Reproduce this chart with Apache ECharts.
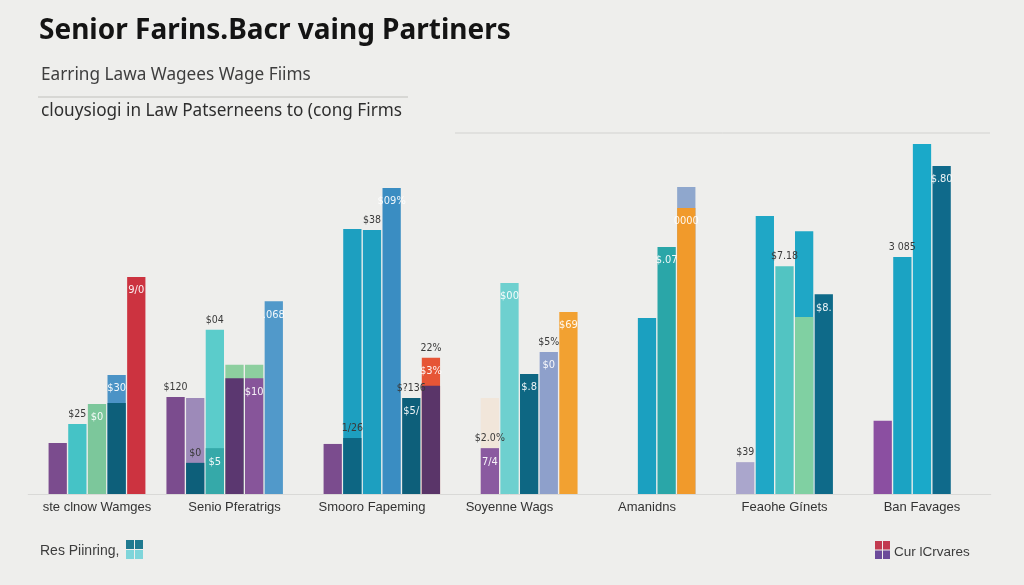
<!DOCTYPE html>
<html>
<head>
<meta charset="utf-8">
<script src="https://cdn.jsdelivr.net/npm/echarts@6/dist/echarts.min.js"></script>
<style>
html,body{margin:0;padding:0;background:#eeeeec;}
#chart{width:1024px;height:585px;}
</style>
</head>
<body>
<div id="chart"></div>
<script>
// ---------------- DATA ----------------
const titleText = 'Senior Farins.Bacr vaing Partiners';
const subtitleText = 'Earring Lawa Wagees Wage Fiims';
const subtitle2Text = 'clouysiogi in Law Patserneens to (cong Firms';
const groups = ['ste clnow Wamges', 'Senio Pferatrigs', 'Smooro Fapeming', 'Soyenne Wags', 'Amanidns', 'Feaohe Gínets', 'Ban Favages'];
const legendLeft = 'Res Piinring,';
const legendRight = 'Cur lCrvares';

// seven column slots per group, null = no bar in that slot
// back layer (taller bars partly hidden behind the main bars)
const backValues = [
  [null, null, null, null, null, null, null],
  [null, null, null, 36.9, 36.9, null, null],
  [null, null, null, null, null, null, null],
  [null, null, 27.4, null, null, null, null],
  [null, null, null, null, null, 87.7, null],
  [null, null, null, null, 75.1, null, null],
  [null, null, null, null, null, null, null]
];
// main layer
const mainValues = [
  [null, 14.6, 20.0, 25.7, 34.0, 62.0, null],
  [27.7, 27.4, 46.9, 33.1, 33.1, 55.1, null],
  [null, 14.3, 75.7, 75.4, 87.4, 27.4, 38.9],
  [null, null, 13.1, 60.3, 34.3, 40.6, 52.0],
  [null, null, null, 50.3, 70.6, 81.7, null],
  [null, 9.1, 79.4, 65.1, 50.6, 57.1, null],
  [null, 20.9, 67.7, 100.0, 93.7, null, null]
];
// front layer (lower overlays in front of the main bars)
const frontValues = [
  [null, null, null, null, 26.0, null, null],
  [null, 8.9, 13.1, null, null, null, null],
  [null, null, 16.0, null, null, null, 30.9],
  [null, null, null, null, null, null, null],
  [null, null, null, null, null, null, null],
  [null, null, null, null, null, null, null],
  [null, null, null, null, null, null, null]
];
// value labels: [group, slot, layer, text, placement]
const barLabels = [
  [0, 2, 'main', '$25', 'out'], [0, 3, 'main', '$0', 'in'], [0, 4, 'main', '$30', 'in'], [0, 5, 'main', '9/0', 'in'],
  [1, 0, 'main', '$120', 'out'], [1, 2, 'main', '$04', 'out'], [1, 2, 'front', '$5', 'in'], [1, 1, 'front', '$0', 'out'],
  [1, 4, 'main', '$10', 'in'], [1, 5, 'main', '.068', 'in'],
  [2, 2, 'main', '$04', 'out'], [2, 3, 'main', '$38', 'out'], [2, 4, 'main', '$09%', 'in'], [2, 2, 'front', '1/26', 'out'],
  [2, 5, 'main', '$?136', 'out'], [2, 5, 'main', '$5/', 'in'], [2, 6, 'main', '22%', 'out'], [2, 6, 'main', '$3%', 'in'],
  [3, 2, 'back', '30%', 'out'], [3, 2, 'main', '$2.0%', 'out'], [3, 2, 'main', '7/4', 'in'], [3, 3, 'main', '$00', 'in'],
  [3, 4, 'main', '$.8', 'in'], [3, 5, 'main', '$5%', 'out'], [3, 5, 'main', '$0', 'in'], [3, 6, 'main', '$69', 'in'],
  [4, 4, 'main', '$.07', 'in'], [4, 5, 'main', '0000', 'in'],
  [5, 1, 'main', '$39', 'out'], [5, 3, 'main', '$7.18', 'out'], [5, 5, 'main', '$8.', 'in'],
  [6, 2, 'main', '3 085', 'out'], [6, 4, 'main', '$.80', 'in']
];

// ---------------- STYLES ----------------
const backColors = [
  [], [null, null, null, '#8dcf9f', '#8dcf9f'], [], [null, null, '#f1e6da'], [null, null, null, null, null, '#8fa7cd'],
  [null, null, null, null, '#1fa7c6'], []
];
const mainColors = [
  [null, '#7b4c8e', '#45c3c6', '#7cc79b', '#4b93c6', '#cc3340'],
  ['#7b4c8e', '#9d8ab9', '#5bcccb', '#5b3770', '#87559a', '#5199ca'],
  [null, '#7b4c8e', '#1d9fc0', '#1d9fc0', '#3a8dc2', '#0d5f7a', '#e65536'],
  [null, null, '#8a5aa0', '#6ed0cf', '#0e6783', '#8ea0cb', '#f2a131'],
  [null, null, null, '#1ba0c0', '#2aa6a8', '#f19a2b'],
  [null, '#aaa6cc', '#1fa7c6', '#52c4c2', '#80d0a2', '#0e6a89'],
  [null, '#8b4fa1', '#1ba3c3', '#1aa9c9', '#0f6a8b']
];
const frontColors = [
  [null, null, null, null, '#0d5f7a'],
  [null, '#0d5f7a', '#35a9a9'],
  [null, null, '#0d6683', null, null, null, '#5a3569'],
  [], [], [], []
];

const SLOTS = 7;
const slotNames = [];
groups.forEach((g, gi) => { for (let s = 0; s < SLOTS; s++) slotNames.push(gi + '-' + s); });

function layerData(values, colors) {
  const out = [];
  values.forEach((row, gi) => {
    for (let s = 0; s < SLOTS; s++) {
      const v = row[s];
      if (v === null || v === undefined) { out.push('-'); continue; }
      out.push({ value: v, itemStyle: { color: (colors[gi] && colors[gi][s]) || '#888' } });
    }
  });
  return out;
}
const layers = { back: backValues, main: mainValues, front: frontValues };
function labelData(placement) {
  const out = slotNames.map(() => '-');
  barLabels.forEach(([gi, s, layer, text, pl]) => {
    if (pl !== placement) return;
    out[gi * SLOTS + s] = { value: layers[layer][gi][s], labelText: text };
  });
  return out;
}

const BW = '93%';
const barBase = { type: 'bar', xAxisIndex: 0, yAxisIndex: 0, barWidth: BW, barGap: '-100%', animation: false, silent: true };

const chart = echarts.init(document.getElementById('chart'), null, { renderer: 'canvas' });
chart.setOption({
  backgroundColor: '#eeeeec',
  animation: false,
  textStyle: { fontFamily: 'Noto Sans' },
  title: [
    { text: titleText, left: 34, top: 12, textStyle: { fontSize: 28, fontWeight: 'bold', color: '#141414', fontFamily: 'Noto Sans' } },
    { text: subtitleText, left: 36, top: 62, textStyle: { fontSize: 17.2, fontWeight: 'normal', color: '#3e3e3e', fontFamily: 'Noto Sans' } },
    { text: subtitle2Text, left: 36, top: 98, textStyle: { fontSize: 17.2, fontWeight: 'normal', color: '#2e2e2e', fontFamily: 'Noto Sans' } }
  ],
  grid: { left: 28.25, right: 33.25, top: 144, bottom: 91, containLabel: false },
  xAxis: [
    { type: 'category', data: slotNames, show: false, boundaryGap: true },
    { type: 'category', data: groups, position: 'bottom', boundaryGap: true,
      axisLine: { show: true, lineStyle: { color: '#d9d9d7', width: 1 } },
      axisTick: { show: false },
      axisLabel: { interval: 0, margin: 7, fontSize: 13, color: '#333', fontFamily: 'Liberation Sans' },
      splitLine: { show: false } }
  ],
  yAxis: { type: 'value', min: 0, max: 100, show: false, splitLine: { show: false } },
  series: [
    Object.assign({}, barBase, { name: 'back', z: 2, data: layerData(backValues, backColors) }),
    Object.assign({}, barBase, { name: 'main', z: 3, data: layerData(mainValues, mainColors) }),
    Object.assign({}, barBase, { name: 'front', z: 4, data: layerData(frontValues, frontColors) }),
    Object.assign({}, barBase, { name: 'outLabels', z: 5, itemStyle: { color: 'rgba(0,0,0,0)' }, data: labelData('out'),
      label: { show: true, position: 'top', distance: 4, fontSize: 10.5, color: '#3a3a3a', fontFamily: 'DejaVu Sans Condensed',
        formatter: p => p.data.labelText } }),
    Object.assign({}, barBase, { name: 'inLabels', z: 6, itemStyle: { color: 'rgba(0,0,0,0)' }, data: labelData('in'),
      label: { show: true, position: 'insideTop', distance: 8, fontSize: 11, color: 'rgba(255,255,255,0.92)', fontFamily: 'DejaVu Sans Condensed',
        formatter: p => p.data.labelText } })
  ],
  graphic: [
    { type: 'line', shape: { x1: 38, y1: 97, x2: 408, y2: 97 }, style: { stroke: '#cfcfcd', lineWidth: 1.5 }, silent: true },
    { type: 'line', shape: { x1: 455, y1: 133, x2: 990, y2: 133 }, style: { stroke: '#d2d2d0', lineWidth: 1 }, silent: true },
    { type: 'text', left: 40, top: 544, style: { text: legendLeft, fontSize: 14, fill: '#3c3c3c', fontFamily: 'Liberation Sans' } },
    { type: 'rect', shape: { x: 126, y: 540, width: 8, height: 9 }, style: { fill: '#1f7a90' } },
    { type: 'rect', shape: { x: 135, y: 540, width: 8, height: 9 }, style: { fill: '#1f7a90' } },
    { type: 'rect', shape: { x: 126, y: 550, width: 8, height: 9 }, style: { fill: '#7fd5da' } },
    { type: 'rect', shape: { x: 135, y: 550, width: 8, height: 9 }, style: { fill: '#7fd5da' } },
    { type: 'rect', shape: { x: 875, y: 541, width: 7, height: 8.5 }, style: { fill: '#c23a4f' } },
    { type: 'rect', shape: { x: 883, y: 541, width: 7, height: 8.5 }, style: { fill: '#c23a4f' } },
    { type: 'rect', shape: { x: 875, y: 550.5, width: 7, height: 8.5 }, style: { fill: '#6b4a9a' } },
    { type: 'rect', shape: { x: 883, y: 550.5, width: 7, height: 8.5 }, style: { fill: '#6b4a9a' } },
    { type: 'text', left: 894, top: 545, style: { text: legendRight, fontSize: 13.5, fill: '#3c3c3c', fontFamily: 'Liberation Sans' } }
  ]
});
</script>
</body>
</html>
